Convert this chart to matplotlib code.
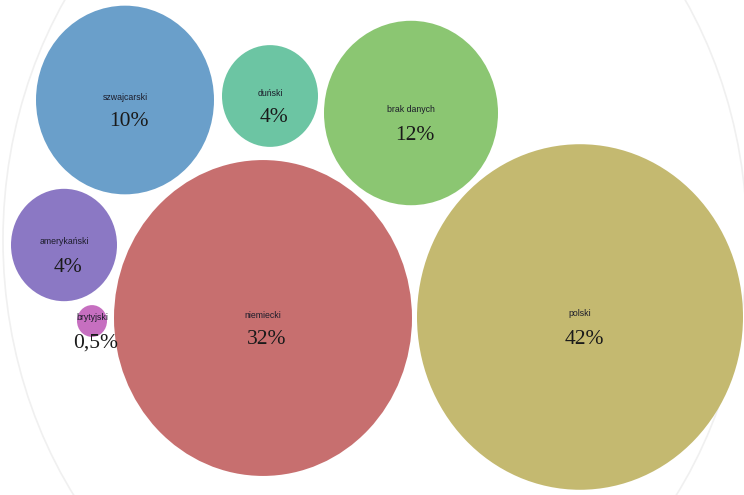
#bubble chart: nationality shares (percent)

import matplotlib
matplotlib.use('Agg')
import matplotlib.pyplot as plt
from matplotlib.patches import Ellipse

names=['szwajcarski','duński','brak danych','amerykański','brytyjski','niemiecki','polski']
values=[10,4,12,4,0.5,32,42]
value_labels=['10%','4%','12%','4%','0,5%','32%','42%']

# layout (pixel coords of centres, horizontal radius)
cx=[125,270,411,64,92,263,580]
cy=[100,96,113,245,321,318,317]
rx=[89,48,87,53,15,149,163]
colors=['#6a9fca','#6cc5a3','#8bc672','#8b78c4','#c66fc0','#c76f6f','#c4b970']
stretch=1.06  #picture is slightly stretched vertically

fig=plt.figure(figsize=(7.44,4.95),dpi=100)
ax=fig.add_axes([0,0,1,1])
ax.set_xlim(0,744)
ax.set_ylim(495,0)
ax.set_aspect('auto')
ax.axis('off')

# faint enclosing circle
ax.add_patch(Ellipse((375,240),2*372,2*435,fill=False,edgecolor='#f0f0f0',lw=1.2,zorder=1))

for crind in range(len(names)):
    ax.add_patch(Ellipse((cx[crind],cy[crind]),2*rx[crind],2*rx[crind]*stretch,
                         facecolor=colors[crind],edgecolor='none',zorder=2))
    ax.text(cx[crind],cy[crind]-3,names[crind],ha='center',va='center',
            fontsize=6.3,family='Liberation Sans',color='#1c1c2a',zorder=3)
    ax.text(cx[crind]+4,cy[crind]+22,value_labels[crind],ha='center',va='center',
            fontsize=15.5,family='Liberation Serif',color='#1a1a1a',zorder=3)

plt.savefig('out.png',dpi=100)
